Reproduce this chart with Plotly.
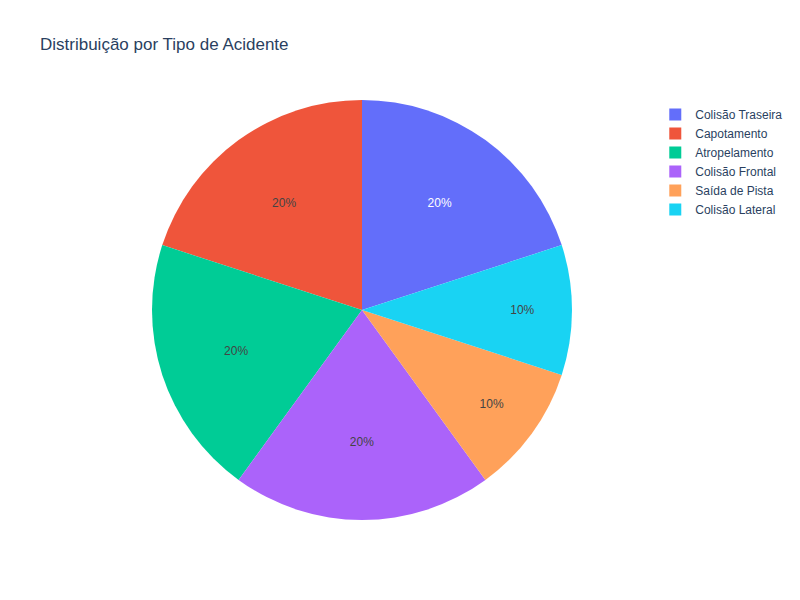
import plotly.graph_objects as go

labels = ["Colisão Traseira", "Capotamento", "Atropelamento", "Colisão Frontal", "Saída de Pista", "Colisão Lateral"]
values = [2, 2, 2, 2, 1, 1]

fig = go.Figure(go.Pie(labels=labels, values=values))
fig.update_layout(title="Distribuição por Tipo de Acidente", width=800, height=600,
                  font=dict(family="Liberation Sans, Arial, sans-serif"))
fig.write_html("out.html")
